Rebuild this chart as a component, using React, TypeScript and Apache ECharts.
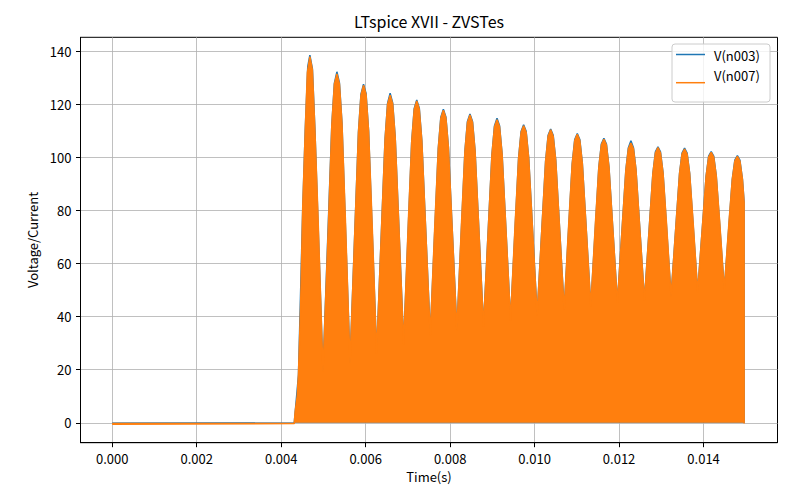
import React, { useEffect, useRef } from "react";
import * as echarts from "echarts";

// time in ms, value in V
const orangeEnvelope: [number, number][] = [
  [0, -0.5], [4.31, -0.3], [4.33, 4], [4.38, 10], [4.41, 18.5], [4.46, 43.6], [4.51, 81], [4.57, 110], [4.62, 132],
  [4.68, 138.0], [4.74, 133], [4.80, 110], [4.87, 79], [4.99, 19.2],
  [5.12, 75.4], [5.20, 112.4], [5.26, 127.6], [5.32, 131.5], [5.38, 127.7], [5.44, 112.9], [5.52, 76.9], [5.63, 22.3],
  [5.75, 74.8], [5.83, 109.4], [5.89, 123.5], [5.95, 127.2], [6.01, 123.7], [6.07, 110.0], [6.15, 76.7], [6.26, 26.1],
  [6.38, 74.8], [6.46, 106.9], [6.52, 120.1], [6.58, 123.5], [6.64, 120.2], [6.70, 107.5], [6.78, 76.6], [6.90, 29.6],
  [7.01, 75.5], [7.09, 105.7], [7.15, 118.1], [7.21, 121.3], [7.27, 118.2], [7.33, 106.3], [7.41, 77.1], [7.53, 32.9],
  [7.64, 75.4], [7.72, 103.4], [7.78, 114.8], [7.84, 117.8], [7.90, 114.9], [7.96, 103.7], [8.04, 76.3], [8.16, 34.8],
  [8.27, 75.4], [8.35, 102.2], [8.41, 113.2], [8.47, 116.0], [8.53, 113.2], [8.59, 102.5], [8.67, 76.2], [8.79, 36.3],
  [8.91, 75.3], [8.99, 101.0], [9.05, 111.5], [9.11, 114.2], [9.17, 111.6], [9.23, 101.3], [9.31, 76.4], [9.43, 38.6],
  [9.54, 75.3], [9.62, 99.5], [9.68, 109.4], [9.74, 112.0], [9.80, 109.5], [9.86, 99.8], [9.94, 76.3], [10.06, 40.5],
  [10.18, 75.5], [10.26, 98.5], [10.32, 108.0], [10.38, 110.4], [10.44, 108.0], [10.50, 98.9], [10.58, 76.5], [10.70, 42.6],
  [10.81, 75.7], [10.89, 97.5], [10.95, 106.4], [11.01, 108.7], [11.07, 106.4], [11.13, 97.7], [11.21, 76.3], [11.33, 43.8],
  [11.44, 75.4], [11.52, 96.2], [11.58, 104.7], [11.64, 106.9], [11.70, 104.7], [11.76, 96.4], [11.84, 76.1], [11.96, 45.2],
  [12.08, 75.3], [12.16, 95.2], [12.22, 103.3], [12.28, 105.4], [12.34, 103.3], [12.40, 95.3], [12.48, 75.8], [12.60, 46.1],
  [12.72, 74.9], [12.80, 93.9], [12.86, 101.7], [12.92, 103.7], [12.98, 101.7], [13.04, 94.2], [13.12, 75.7], [13.23, 47.6],
  [13.35, 75.4], [13.43, 93.7], [13.49, 101.3], [13.55, 103.2], [13.61, 101.3], [13.67, 94.0], [13.75, 76.2], [13.86, 49.2],
  [13.98, 75.6], [14.06, 92.9], [14.12, 100.1], [14.18, 101.9], [14.24, 100.1], [14.30, 93.1], [14.38, 76.0], [14.49, 50.1],
  [14.60, 75.3], [14.68, 91.8], [14.74, 98.6], [14.80, 100.4], [14.86, 98.6], [14.92, 91.8], [14.96, 83], [14.96, -0.3],
];

const blueEnvelope: [number, number][] = [
  [0, -0.2], [4.31, -0.1], [4.41, 18], [4.51, 80], [4.57, 110],
  [4.63, 134.2], [4.68, 138.6], [4.74, 133.4], [4.80, 110.2], [4.99, 19.2],
  [5.20, 112.4], [5.26, 128.0], [5.32, 132.3], [5.38, 128.1], [5.44, 112.9], [5.63, 22.3],
  [5.83, 109.4], [5.89, 123.9], [5.95, 127.6], [6.01, 124.1], [6.07, 110.0], [6.26, 26.1],
  [6.46, 106.9], [6.52, 120.5], [6.58, 124.2], [6.64, 120.6], [6.70, 107.5], [6.90, 29.6],
  [7.09, 105.7], [7.15, 118.5], [7.21, 121.7], [7.27, 118.6], [7.33, 106.3], [7.53, 32.9],
  [7.72, 103.4], [7.78, 115.2], [7.84, 118.2], [7.90, 115.3], [7.96, 103.7], [8.16, 34.8],
  [8.35, 102.2], [8.41, 113.6], [8.47, 116.4], [8.53, 113.6], [8.59, 102.5], [8.79, 36.3],
  [8.99, 101.0], [9.05, 111.9], [9.11, 114.8], [9.17, 112.0], [9.23, 101.3], [9.43, 38.6],
  [9.62, 99.5], [9.68, 109.8], [9.74, 112.3], [9.80, 109.9], [9.86, 99.8], [10.06, 40.5],
  [10.26, 98.5], [10.32, 108.4], [10.38, 110.7], [10.44, 108.4], [10.50, 98.9], [10.70, 42.6],
  [10.89, 97.5], [10.95, 106.8], [11.01, 109.0], [11.07, 106.8], [11.13, 97.7], [11.33, 43.8],
  [11.52, 96.2], [11.58, 105.1], [11.64, 107.2], [11.70, 105.1], [11.76, 96.4], [11.96, 45.2],
  [12.16, 95.2], [12.22, 103.7], [12.28, 106.3], [12.34, 103.7], [12.40, 95.3], [12.60, 46.1],
  [12.80, 93.9], [12.86, 102.1], [12.92, 104.0], [12.98, 102.1], [13.04, 94.2], [13.23, 47.6],
  [13.43, 93.7], [13.49, 101.7], [13.55, 103.5], [13.61, 101.7], [13.67, 94.0], [13.86, 49.2],
  [14.06, 92.9], [14.12, 100.5], [14.18, 102.2], [14.24, 100.5], [14.30, 93.1], [14.49, 50.1],
  [14.68, 91.8], [14.74, 99.0], [14.80, 100.7], [14.86, 99.0], [14.92, 91.8], [14.96, 83], [14.96, -0.1],
];

const xTicks = [0, 0.002, 0.004, 0.006, 0.008, 0.01, 0.012, 0.014];
const yTicks = [0, 20, 40, 60, 80, 100, 120, 140];
const seriesNames = ["V(n003)", "V(n007)"];
const colors = ["#1f77b4", "#ff7f0e"];
const titleText = "LTspice XVII - ZVSTes";
const xName = "Time(s)";
const yName = "Voltage/Current";

const FONT = "'Noto Sans CJK SC', 'Noto Sans', sans-serif";

export default function App() {
  const ref = useRef<HTMLDivElement>(null);
  useEffect(() => {
    document.body.style.margin = "0";
    if (!ref.current) return;
    const chart = echarts.init(ref.current, null, { renderer: "svg" });
    const toSec = (arr: [number, number][]) => arr.map(([t, v]) => [t / 1000, v]);
    const plotLeft = 80.5, plotRight = 777.5, plotTop = 37.3, plotBottom = 442.7;
    chart.setOption({
      animation: false,
      backgroundColor: "#ffffff",
      textStyle: { fontFamily: FONT },
      grid: {
        left: plotLeft,
        right: 800 - plotRight,
        top: plotTop,
        bottom: 500 - plotBottom,
        show: true,
        borderColor: "#000",
        borderWidth: 1,
        backgroundColor: "transparent",
      },
      xAxis: {
        type: "value",
        min: -0.00075,
        max: 0.01575,
        name: xName,
        nameLocation: "middle",
        nameGap: 26,
        nameTextStyle: { fontFamily: FONT, fontSize: 13, color: "#000" },
        axisLine: { show: true, onZero: false, lineStyle: { color: "#000", width: 1 } },
        axisTick: { show: true, length: 4.5, customValues: xTicks, lineStyle: { color: "#000" } },
        axisLabel: {
          customValues: xTicks,
          formatter: (v: number) => v.toFixed(3),
          fontFamily: FONT,
          fontSize: 13,
          color: "#000",
          margin: 9,
        },
        splitLine: { show: true, lineStyle: { color: "#b0b0b0", width: 0.8 } },
      },
      yAxis: {
        type: "value",
        min: -7.5,
        max: 145.3,
        name: yName,
        nameLocation: "middle",
        nameGap: 41,
        nameTextStyle: { fontFamily: FONT, fontSize: 13, color: "#000" },
        axisLine: { show: true, onZero: false, lineStyle: { color: "#000", width: 1 } },
        axisTick: { show: true, length: 4.5, customValues: yTicks, lineStyle: { color: "#000" } },
        axisLabel: {
          customValues: yTicks,
          fontFamily: FONT,
          fontSize: 13,
          color: "#000",
          margin: 9,
        },
        splitLine: { show: true, lineStyle: { color: "#b0b0b0", width: 0.8 } },
      },
      series: [
        {
          name: seriesNames[0],
          type: "line",
          data: toSec(blueEnvelope),
          showSymbol: false,
          symbol: "none",
          lineStyle: { color: colors[0], width: 1.5 },
          areaStyle: { color: colors[0], opacity: 1 },
          z: 2,
        },
        {
          name: seriesNames[1],
          type: "line",
          data: toSec(orangeEnvelope),
          showSymbol: false,
          symbol: "none",
          lineStyle: { color: colors[1], width: 1.5 },
          areaStyle: { color: colors[1], opacity: 1 },
          z: 3,
        },
      ],
      graphic: [
        {
          type: "text",
          x: (plotLeft + plotRight) / 2,
          y: 21,
          style: {
            text: titleText,
            font: `16px ${FONT}`,
            fill: "#000",
            textAlign: "center",
            textVerticalAlign: "middle",
          },
        },
        {
          type: "rect",
          shape: { x: 672, y: 44, width: 98, height: 58, r: 3 },
          style: { fill: "rgba(255,255,255,0.8)", stroke: "#cccccc", lineWidth: 1 },
          z: 10,
        },
        {
          type: "line",
          shape: { x1: 676, y1: 54.5, x2: 705, y2: 54.5 },
          style: { stroke: colors[0], lineWidth: 1.5 },
          z: 11,
        },
        {
          type: "text",
          x: 714,
          y: 55,
          style: { text: seriesNames[0], font: `13px ${FONT}`, fill: "#000", textVerticalAlign: "middle" },
          z: 11,
        },
        {
          type: "line",
          shape: { x1: 676, y1: 82.7, x2: 705, y2: 82.7 },
          style: { stroke: colors[1], lineWidth: 1.5 },
          z: 11,
        },
        {
          type: "text",
          x: 714,
          y: 75,
          style: { text: seriesNames[1], font: `13px ${FONT}`, fill: "#000", textVerticalAlign: "middle" },
          z: 11,
        },
      ],
    });
    return () => chart.dispose();
  }, []);
  return <div ref={ref} style={{ width: 800, height: 500 }} />;
}
